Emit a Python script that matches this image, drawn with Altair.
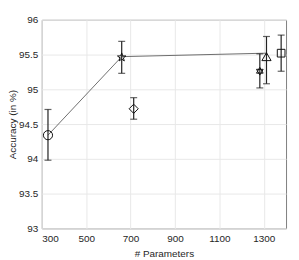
import math
import altair as alt
import pandas as pd

# Models (marker, #params, accuracy mean, error-bar low, error-bar high)
markers = ["circle", "star", "diamond", "hexagram", "triangle", "square"]
params = [328, 660, 714, 1282, 1312, 1378]
acc = [94.34, 95.46, 94.72, 95.26, 95.47, 95.52]
acc_lo = [93.98, 95.23, 94.57, 95.02, 95.08, 95.26]
acc_hi = [94.71, 95.69, 94.88, 95.51, 95.76, 95.78]
marker_sizes = [85, 80, 85, 60, 85, 60]

# Connecting line (frontier)
line_x = [328, 660, 1312]
line_y = [94.34, 95.47, 95.52]

x_ticks = [300, 500, 700, 900, 1100, 1300]
y_ticks = [93, 93.5, 94, 94.5, 95, 95.5, 96]


def star_path(n=5, r_in=0.4):
    pts = []
    for i in range(2 * n):
        ang = math.radians(-90 + i * 180 / n)
        r = 1 if i % 2 == 0 else r_in
        pts.append(f"{r * math.cos(ang):.3f},{r * math.sin(ang):.3f}")
    return "M" + "L".join(pts) + "Z"


hexagram = "M0,-1L0.866,0.5L-0.866,0.5Z M0,1L0.866,-0.5L-0.866,-0.5Z"
shape_map = {
    "circle": "circle",
    "star": star_path(),
    "diamond": "diamond",
    "hexagram": hexagram,
    "triangle": "triangle-up",
    "square": "square",
}

df = pd.DataFrame({"m": markers, "p": params, "a": acc, "lo": acc_lo, "hi": acc_hi})
dl = pd.DataFrame({"p": line_x, "a": line_y})

xs = alt.Scale(domain=[300, 1400], nice=False, zero=False)
ys = alt.Scale(domain=[93, 96], nice=False, zero=False)

xax = alt.Axis(values=x_ticks, title="# Parameters", grid=True, format="d")
yax = alt.Axis(
    values=y_ticks,
    title="Accuracy (in %)",
    grid=True,
    format="~g",
    titleX=-26,
    titleY=105,
    titleAngle=270,
    titleAlign="center",
    titleBaseline="alphabetic",
)


def X(field):
    return alt.X(field, type="quantitative", scale=xs, axis=xax)


def Y(field):
    return alt.Y(field, type="quantitative", scale=ys, axis=yax)


line = alt.Chart(dl).mark_line(color="#4a4a4a", strokeWidth=0.8).encode(x=X("p"), y=Y("a"))

rules = alt.Chart(df).mark_rule(color="#222222", strokeWidth=1.2).encode(
    x=X("p"), y=Y("lo"), y2="hi:Q"
)
cap_lo = alt.Chart(df).mark_tick(color="#222222", orient="horizontal", size=7, thickness=1.2).encode(
    x=X("p"), y=Y("lo")
)
cap_hi = alt.Chart(df).mark_tick(color="#222222", orient="horizontal", size=7, thickness=1.2).encode(
    x=X("p"), y=Y("hi")
)

point_layers = []
for m, s in zip(markers, marker_sizes):
    sub = df[df["m"] == m]
    point_layers.append(
        alt.Chart(sub)
        .mark_point(shape=shape_map[m], size=s, filled=False, color="#111111", strokeWidth=1, opacity=1)
        .encode(x=X("p"), y=Y("a"))
    )

chart = (
    alt.layer(line, rules, cap_lo, cap_hi, *point_layers)
    .properties(
        width=246,
        height=210,
        autosize=alt.AutoSizeParams(type="none"),
        padding={"left": 34, "top": 11, "right": 5, "bottom": 31},
        background="white",
    )
    .configure_view(stroke="#7f7f7f", strokeWidth=1)
    .configure_axis(
        domain=False,
        ticks=False,
        gridColor="#e8e8e8",
        gridWidth=1,
        labelFont="Liberation Sans",
        labelFontSize=10,
        labelColor="#262626",
        titleFont="Liberation Sans",
        titleFontSize=10,
        titleFontWeight="normal",
        titleColor="#262626",
        labelPadding=4,
    )
    .configure_axisX(titlePadding=5, labelPadding=5)
)

chart.save("out.html", embed_options={"renderer": "svg", "actions": False})
